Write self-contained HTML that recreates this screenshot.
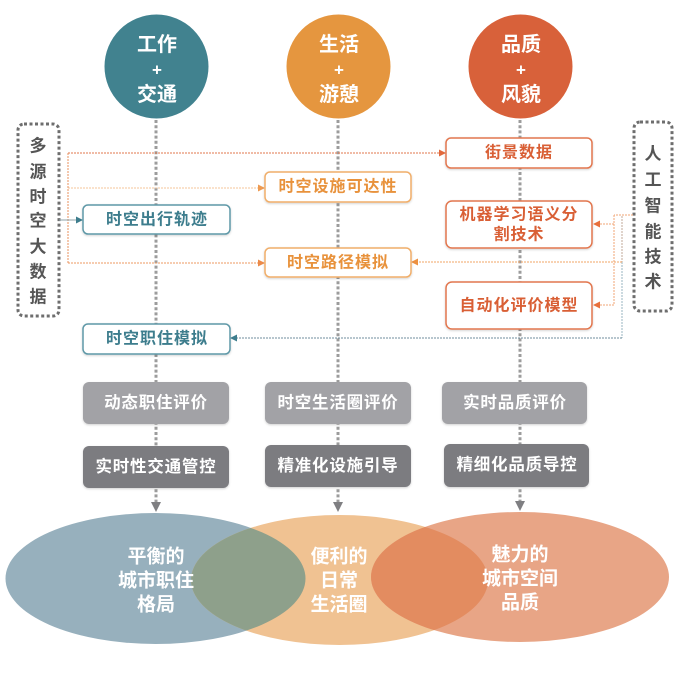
<!DOCTYPE html>
<html><head><meta charset="utf-8">
<style>
html,body{margin:0;padding:0;background:#fff;}
svg{display:block;}
text{font-family:"Liberation Sans","Noto Sans CJK SC",sans-serif;font-weight:bold;}
</style></head>
<body>
<svg width="685" height="679" viewBox="0 0 685 679" xmlns="http://www.w3.org/2000/svg">
<defs>
  <clipPath id="cT"><ellipse cx="155.5" cy="578.5" rx="150" ry="65.5"/></clipPath>
  <clipPath id="cR"><ellipse cx="520" cy="577" rx="149" ry="65"/></clipPath>
  <filter id="sh" x="-10%" y="-20%" width="120%" height="150%">
    <feDropShadow dx="0" dy="1" stdDeviation="1" flood-color="#000" flood-opacity="0.18"/>
  </filter>
</defs>

<!-- vertical dotted lines -->
<g stroke="#9c9c9c" stroke-width="3" stroke-dasharray="3 2.2" fill="none">
  <line x1="156" y1="120" x2="156" y2="503"/>
  <line x1="338" y1="120" x2="338" y2="503"/>
  <line x1="520" y1="120" x2="520" y2="503"/>
</g>
<!-- arrow heads to ellipses -->
<g fill="#7f7f82">
  <polygon points="151,502 161,502 156,512"/>
  <polygon points="333,502 343,502 338,512"/>
  <polygon points="515,501 525,501 520,511"/>
</g>

<!-- top circles -->
<circle cx="156.5" cy="66.5" r="52" fill="#41828f"/>
<circle cx="338.5" cy="66.5" r="52" fill="#e5963f"/>
<circle cx="520.5" cy="66.5" r="52" fill="#d8613a"/>
<g fill="#fff" text-anchor="middle" dominant-baseline="central">
  <text x="157" y="45" font-size="20">工作</text>
  <text x="157" y="70" font-size="17">+</text>
  <text x="157" y="95" font-size="20">交通</text>
  <text x="339" y="45" font-size="20">生活</text>
  <text x="339" y="70" font-size="17">+</text>
  <text x="339" y="95" font-size="20">游憩</text>
  <text x="521" y="45" font-size="20">品质</text>
  <text x="521" y="70" font-size="17">+</text>
  <text x="521" y="95" font-size="20">风貌</text>
</g>

<!-- side dashed boxes -->
<rect x="18" y="124" width="41" height="192" rx="6" fill="none" stroke="#6e6e6e" stroke-width="3" stroke-dasharray="3 2.5"/>
<rect x="634" y="122" width="38" height="189" rx="6" fill="none" stroke="#6e6e6e" stroke-width="3" stroke-dasharray="3 2.5"/>
<g fill="#555" font-size="17" text-anchor="middle" dominant-baseline="central">
  <text x="38" y="146">多</text>
  <text x="38" y="172">源</text>
  <text x="38" y="197">时</text>
  <text x="38" y="221">空</text>
  <text x="38" y="247">大</text>
  <text x="38" y="272">数</text>
  <text x="38" y="297">据</text>
  <text x="653" y="154">人</text>
  <text x="653" y="180">工</text>
  <text x="653" y="206">智</text>
  <text x="653" y="232">能</text>
  <text x="653" y="257">技</text>
  <text x="653" y="282">术</text>
</g>

<!-- left connectors -->
<g fill="none" stroke-width="1" stroke-dasharray="2 1">
  <line x1="68" y1="153" x2="440" y2="153" stroke="#e2774c"/>
  <line x1="68" y1="188" x2="259" y2="188" stroke="#f4c49a"/>
  <line x1="68" y1="263" x2="259" y2="263" stroke="#ec9a62"/>
  <line x1="68" y1="153" x2="68" y2="263" stroke="#e8905c"/>
</g>
<line x1="59" y1="220" x2="77" y2="220" stroke="#8fa3aa" stroke-width="1"/>
<polygon points="446,153 439,149.5 439,156.5" fill="#e2693c"/>
<polygon points="265,188 258,184.5 258,191.5" fill="#ee9a50"/>
<polygon points="265,263 258,259.5 258,266.5" fill="#ec8a48"/>
<polygon points="83,220 76,216.5 76,223.5" fill="#3d7d8d"/>

<!-- right connectors -->
<g fill="none" stroke-width="1" stroke-dasharray="2 1">
  <line x1="633" y1="215" x2="614" y2="215" stroke="#f0a474"/>
  <line x1="614" y1="215" x2="614" y2="305" stroke="#f0a474"/>
  <line x1="614" y1="224" x2="600" y2="224" stroke="#f0a474"/>
  <line x1="614" y1="305" x2="600" y2="305" stroke="#f0a474"/>
  <line x1="622" y1="216" x2="622" y2="262" stroke="#c0aa98"/>
  <line x1="622" y1="262" x2="622" y2="338" stroke="#98b4c2"/>
  <line x1="622" y1="262" x2="418" y2="262" stroke="#f0a464"/>
  <line x1="622" y1="338" x2="237" y2="338" stroke="#6f8e9c"/>
</g>
<polygon points="593,224 600,220.5 600,227.5" fill="#e8703c"/>
<polygon points="593,305 600,301.5 600,308.5" fill="#e8703c"/>
<polygon points="411,262 418,258.5 418,265.5" fill="#ec9040"/>
<polygon points="230,338 237,334.5 237,341.5" fill="#3d7d8d"/>

<!-- teal boxes -->
<g fill="#fff" stroke="#5e98a7" stroke-width="1.5" filter="url(#sh)">
  <rect x="83" y="205" width="147" height="29" rx="5"/>
  <rect x="83" y="324" width="147" height="30" rx="5"/>
</g>
<!-- orange boxes -->
<g fill="#fff" stroke="#f0ae6a" stroke-width="1.5" filter="url(#sh)">
  <rect x="265" y="172" width="146" height="30" rx="5"/>
  <rect x="265" y="248" width="146" height="29" rx="5"/>
</g>
<!-- red boxes -->
<g fill="#fff" stroke="#e2774f" stroke-width="1.5" filter="url(#sh)">
  <rect x="446" y="138" width="146" height="30" rx="5"/>
  <rect x="446" y="201" width="146" height="47" rx="6"/>
  <rect x="446" y="282" width="146" height="47" rx="6"/>
</g>
<g font-size="16" letter-spacing="1" text-anchor="middle" dominant-baseline="central">
  <text x="157" y="220" fill="#3d7d8d">时空出行轨迹</text>
  <text x="157" y="339" fill="#3d7d8d">时空职住模拟</text>
  <text x="338" y="187" fill="#e8923c">时空设施可达性</text>
  <text x="338" y="263" fill="#e8923c">时空路径模拟</text>
  <text x="519" y="153" fill="#d95f35">街景数据</text>
  <text x="519" y="215" fill="#d95f35">机器学习语义分</text>
  <text x="519" y="235" fill="#d95f35">割技术</text>
  <text x="519" y="306" fill="#d95f35">自动化评价模型</text>
</g>

<!-- gray boxes -->
<g filter="url(#sh)">
  <rect x="83" y="382" width="146" height="42" rx="6" fill="#a2a2a6"/>
  <rect x="265" y="382" width="146" height="42" rx="6" fill="#a2a2a6"/>
  <rect x="442" y="382" width="145" height="42" rx="6" fill="#a2a2a6"/>
  <rect x="83" y="446" width="146" height="42" rx="6" fill="#7b7b80"/>
  <rect x="265" y="445" width="146" height="42" rx="6" fill="#7b7b80"/>
  <rect x="444" y="444" width="145" height="43" rx="6" fill="#7b7b80"/>
</g>
<g fill="#fff" font-size="16.5" letter-spacing="0.8" text-anchor="middle" dominant-baseline="central">
  <text x="156" y="403">动态职住评价</text>
  <text x="338" y="403">时空生活圈评价</text>
  <text x="515" y="403">实时品质评价</text>
  <text x="156" y="467">实时性交通管控</text>
  <text x="338" y="466">精准化设施引导</text>
  <text x="517" y="465">精细化品质导控</text>
</g>

<!-- bottom ellipses -->
<ellipse cx="155.5" cy="578.5" rx="150" ry="65.5" fill="#97b0bd"/>
<ellipse cx="339.5" cy="580" rx="148.5" ry="65" fill="#f0c292"/>
<ellipse cx="520" cy="577" rx="149" ry="65" fill="#e8a586"/>
<ellipse cx="339.5" cy="580" rx="148.5" ry="65" fill="#8ea08b" clip-path="url(#cT)"/>
<ellipse cx="339.5" cy="580" rx="148.5" ry="65" fill="#e38c60" clip-path="url(#cR)"/>
<g fill="#fff" font-size="19" text-anchor="middle" dominant-baseline="central">
  <text x="156" y="557">平衡的</text>
  <text x="156" y="581">城市职住</text>
  <text x="156" y="605">格局</text>
  <text x="339" y="557">便利的</text>
  <text x="339" y="581">日常</text>
  <text x="339" y="605">生活圈</text>
  <text x="520" y="555">魅力的</text>
  <text x="520" y="579">城市空间</text>
  <text x="520" y="603">品质</text>
</g>
</svg>
</body></html>
